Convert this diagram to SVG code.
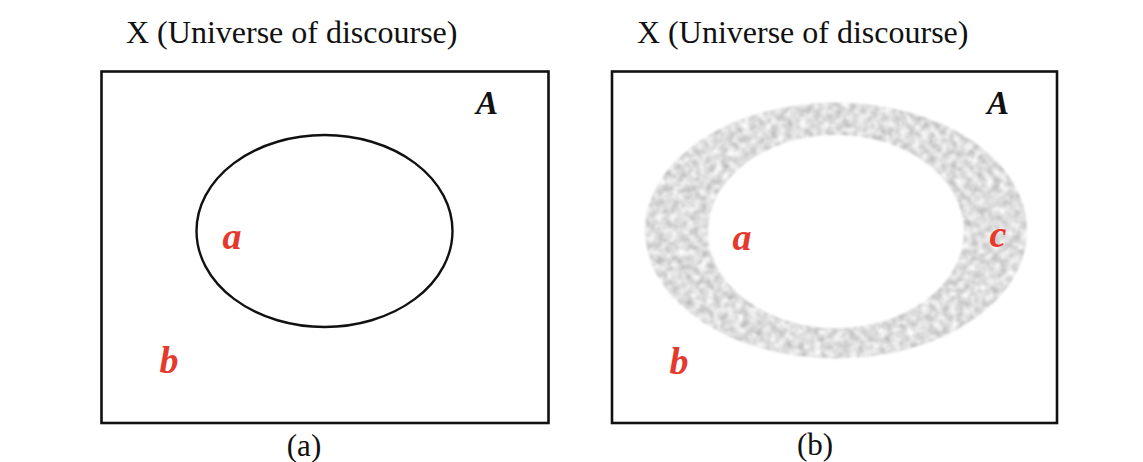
<svg xmlns="http://www.w3.org/2000/svg" width="1143" height="462" viewBox="0 0 1143 462">
<style>
.title{font-family:"Liberation Serif","Times New Roman",serif;font-size:32px;fill:#111}
.cap{font-family:"Liberation Serif","Times New Roman",serif;font-size:31px;fill:#111;text-anchor:middle}
.lbl{font-family:"Liberation Serif","Times New Roman",serif;font-size:38px;font-weight:bold;font-style:italic;fill:#e6392e;text-anchor:middle}
.setA{font-family:"Liberation Serif","Times New Roman",serif;font-size:33px;font-weight:bold;font-style:italic;fill:#111;text-anchor:middle}
.frame{fill:#fff;stroke:#111;stroke-width:2.6}
</style>
<defs>
<filter id="mottle" x="-2%" y="-2%" width="104%" height="104%" color-interpolation-filters="sRGB">
<feTurbulence type="fractalNoise" baseFrequency="0.14" numOctaves="3" seed="7" result="n"/>
<feColorMatrix in="n" type="matrix" values="0.4 0 0 0 0.67  0.4 0 0 0 0.67  0.4 0 0 0 0.67  0 0 0 0 1" result="g"/>
<feComposite in="g" in2="SourceGraphic" operator="in" result="c"/>
<feGaussianBlur in="c" stdDeviation="1"/>
</filter>
</defs>
<rect width="1143" height="462" fill="#fff"/>
<g id="title-a">
<text class="title" x="126" y="43">X (Universe of discourse)</text>
</g>
<g id="title-b">
<text class="title" x="637" y="43">X (Universe of discourse)</text>
</g>
<g id="panel-a">
<rect class="frame" x="101.5" y="71.5" width="447" height="351.5"/>
<text class="setA" x="487" y="114">A</text>
<ellipse cx="324.5" cy="231" rx="128" ry="96" fill="none" stroke="#111" stroke-width="2.4"/>
<text class="lbl" x="232" y="249">a</text>
<text class="lbl" x="169" y="373">b</text>
<text class="cap" x="304" y="456">(a)</text>
</g>
<g id="panel-b">
<rect class="frame" x="612" y="71.5" width="445" height="351.5"/>
<text class="setA" x="998" y="114">A</text>
<path d="M645,230.5 a191,128 0 1,0 382,0 a191,128 0 1,0 -382,0 Z M708,231.5 a128,96.5 0 1,0 256,0 a128,96.5 0 1,0 -256,0 Z" fill="#ddd" fill-rule="evenodd" filter="url(#mottle)"/>
<text class="lbl" x="742" y="250">a</text>
<text class="lbl" x="998" y="247">c</text>
<text class="lbl" x="679" y="374">b</text>
<text class="cap" x="815" y="455">(b)</text>
</g>
<g id="connectors"/>
</svg>
